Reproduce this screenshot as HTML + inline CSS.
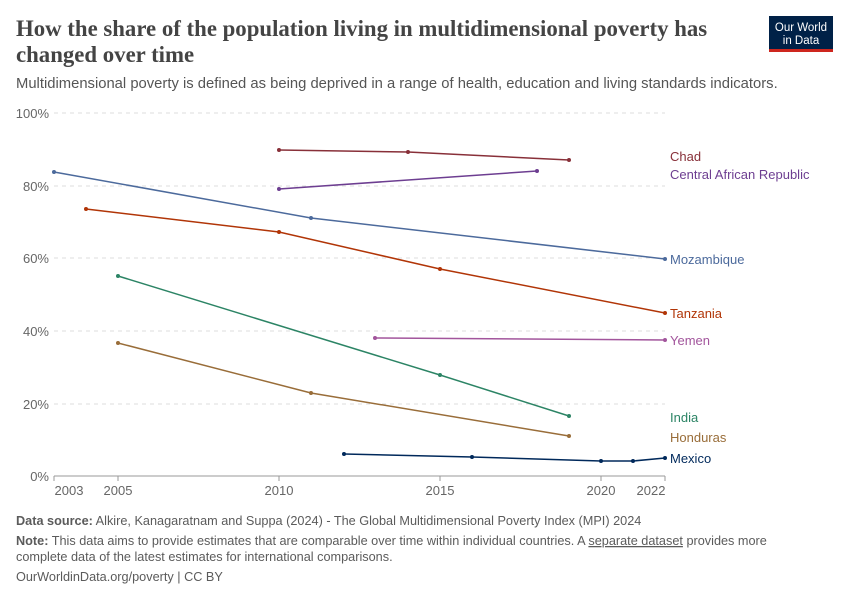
<!DOCTYPE html>
<html><head><meta charset="utf-8"><style>
body{margin:0;background:#fff;font-family:"Liberation Sans",sans-serif;}
svg text{font-family:"Liberation Sans",sans-serif;}
</style></head><body>
<svg width="850" height="600" xmlns="http://www.w3.org/2000/svg">
<rect width="850" height="600" fill="#fff"/>
<text x="16" y="36" font-size="22.8" fill="#444" font-weight="bold" style="font-family:'Liberation Serif',serif">How the share of the population living in multidimensional poverty has</text>
<text x="16" y="62" font-size="22.8" fill="#444" font-weight="bold" style="font-family:'Liberation Serif',serif">changed over time</text>
<text x="16" y="88" font-size="14.8" fill="#555">Multidimensional poverty is defined as being deprived in a range of health, education and living standards indicators.</text>
<rect x="769" y="16" width="64" height="36" fill="#002147"/>
<rect x="769" y="49" width="64" height="3" fill="#ce261e"/>
<text x="801" y="31" font-size="11.5" fill="#fff" text-anchor="middle">Our World</text>
<text x="801" y="44" font-size="11.5" fill="#fff" text-anchor="middle">in Data</text>
<g stroke="#ddd" stroke-dasharray="4,4" stroke-width="1">
<line x1="54" x2="665" y1="113" y2="113"/><line x1="54" x2="665" y1="186" y2="186"/><line x1="54" x2="665" y1="258" y2="258"/><line x1="54" x2="665" y1="331" y2="331"/><line x1="54" x2="665" y1="404" y2="404"/>
</g>
<line x1="54" x2="665" y1="476" y2="476" stroke="#999"/>
<g font-size="13" fill="#666" text-anchor="end">
<text x="49" y="118">100%</text><text x="49" y="191">80%</text><text x="49" y="263">60%</text><text x="49" y="336">40%</text><text x="49" y="409">20%</text><text x="49" y="481">0%</text>
</g>
<g stroke="#999"><line x1="54" x2="54" y1="476" y2="481"/><line x1="118" x2="118" y1="476" y2="481"/><line x1="279" x2="279" y1="476" y2="481"/><line x1="440" x2="440" y1="476" y2="481"/><line x1="601" x2="601" y1="476" y2="481"/><line x1="665" x2="665" y1="476" y2="481"/></g>
<g font-size="13" fill="#666" text-anchor="middle">
<text x="69" y="495">2003</text><text x="118" y="495">2005</text><text x="279" y="495">2010</text><text x="440" y="495">2015</text><text x="601" y="495">2020</text><text x="651" y="495">2022</text>
</g>
<g fill="none" stroke-width="1.5">
<polyline stroke="#883039" points="279,150 408,152 569,160"/>
<polyline stroke="#6d3e91" points="279,189 537,171"/>
<polyline stroke="#4c6a9c" points="54,172 311,218 665,259"/>
<polyline stroke="#b13507" points="86,209 279,232 440,269 665,313"/>
<polyline stroke="#a2559c" points="375,338 665,340"/>
<polyline stroke="#2c8465" points="118,276 440,375 569,416"/>
<polyline stroke="#996d39" points="118,343 311,393 569,436"/>
<polyline stroke="#00295b" points="344,454 472,457 601,461 633,461 665,458"/>
</g>
<g>
<g fill="#883039"><circle cx="279" cy="150" r="2"/><circle cx="408" cy="152" r="2"/><circle cx="569" cy="160" r="2"/></g>
<g fill="#6d3e91"><circle cx="279" cy="189" r="2"/><circle cx="537" cy="171" r="2"/></g>
<g fill="#4c6a9c"><circle cx="54" cy="172" r="2"/><circle cx="311" cy="218" r="2"/><circle cx="665" cy="259" r="2"/></g>
<g fill="#b13507"><circle cx="86" cy="209" r="2"/><circle cx="279" cy="232" r="2"/><circle cx="440" cy="269" r="2"/><circle cx="665" cy="313" r="2"/></g>
<g fill="#a2559c"><circle cx="375" cy="338" r="2"/><circle cx="665" cy="340" r="2"/></g>
<g fill="#2c8465"><circle cx="118" cy="276" r="2"/><circle cx="440" cy="375" r="2"/><circle cx="569" cy="416" r="2"/></g>
<g fill="#996d39"><circle cx="118" cy="343" r="2"/><circle cx="311" cy="393" r="2"/><circle cx="569" cy="436" r="2"/></g>
<g fill="#00295b"><circle cx="344" cy="454" r="2"/><circle cx="472" cy="457" r="2"/><circle cx="601" cy="461" r="2"/><circle cx="633" cy="461" r="2"/><circle cx="665" cy="458" r="2"/></g>
</g>
<g font-size="13">
<text x="670" y="161" fill="#883039">Chad</text>
<text x="670" y="179" fill="#6d3e91">Central African Republic</text>
<text x="670" y="264" fill="#4c6a9c">Mozambique</text>
<text x="670" y="318" fill="#b13507">Tanzania</text>
<text x="670" y="345" fill="#a2559c">Yemen</text>
<text x="670" y="422" fill="#2c8465">India</text>
<text x="670" y="442" fill="#996d39">Honduras</text>
<text x="670" y="463" fill="#00295b">Mexico</text>
</g>
<g font-size="12.7" fill="#5b5b5b">
<text x="16" y="525"><tspan font-weight="bold">Data source:</tspan> Alkire, Kanagaratnam and Suppa (2024) - The Global Multidimensional Poverty Index (MPI) 2024</text>
<text x="16" y="545"><tspan font-weight="bold">Note:</tspan> This data aims to provide estimates that are comparable over time within individual countries. A <tspan text-decoration="underline">separate dataset</tspan> provides more</text>
<text x="16" y="561">complete data of the latest estimates for international comparisons.</text>
<text x="16" y="581">OurWorldinData.org/poverty | CC BY</text>
</g>
</svg>
</body></html>
